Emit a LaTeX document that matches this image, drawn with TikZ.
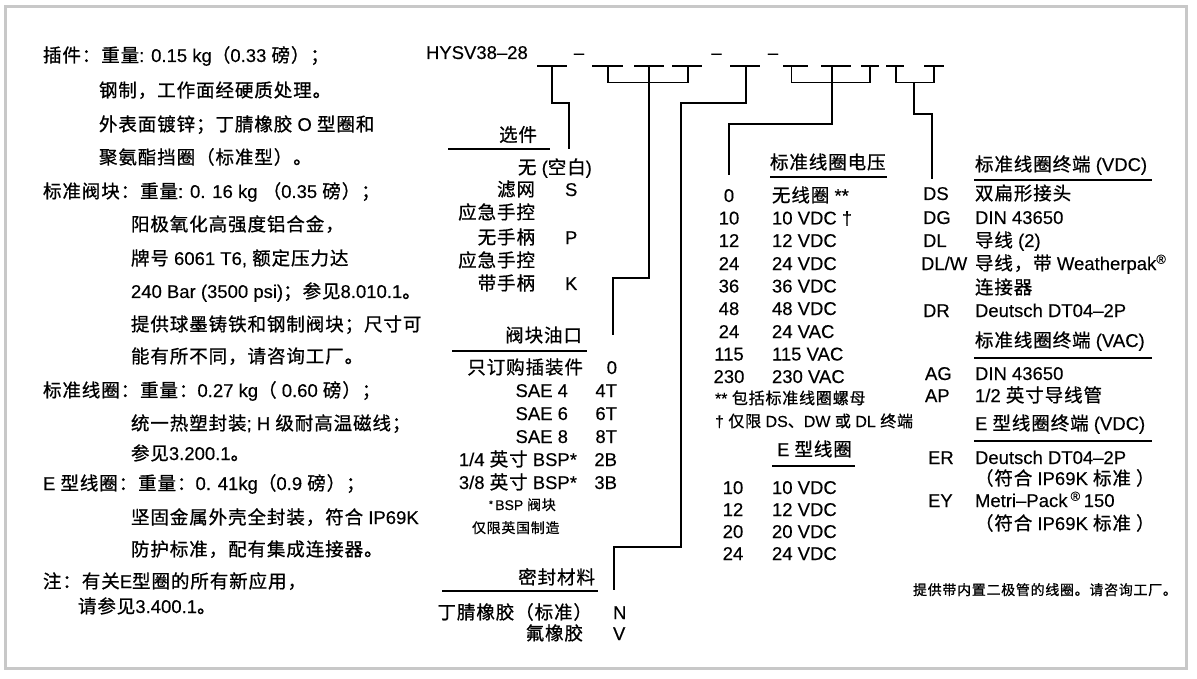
\documentclass[tikz,border=0pt]{standalone}
\usepackage{fontspec}
\setmainfont[FakeBold=0.3]{Liberation Sans}
\newfontfamily\latf[FakeBold=0.3]{Liberation Sans}
\newfontfamily\cjkf[LetterSpace=5,FakeBold=0.8]{Noto Sans CJK SC}
\XeTeXinterchartokenstate=1
\newXeTeXintercharclass\cjkcls
\newcount\mycnt
\mycnt="0021
\loop\XeTeXcharclass\mycnt=0 \ifnum\mycnt<"2FFF \advance\mycnt 1 \repeat
\mycnt="3000
\loop\XeTeXcharclass\mycnt=\cjkcls \ifnum\mycnt<"303F \advance\mycnt 1 \repeat
\mycnt="4E00
\loop\XeTeXcharclass\mycnt=\cjkcls \ifnum\mycnt<"9FFF \advance\mycnt 1 \repeat
\mycnt="FF00
\loop\XeTeXcharclass\mycnt=\cjkcls \ifnum\mycnt<"FFEF \advance\mycnt 1 \repeat
\XeTeXinterchartoks 0 \cjkcls = {\cjkf}
\XeTeXinterchartoks 4095 \cjkcls = {\cjkf}
\XeTeXinterchartoks \cjkcls 0 = {\latf}
\XeTeXinterchartoks \cjkcls 4095 = {\latf}
\definecolor{framegray}{RGB}{200,200,200}
\tikzset{
  txt/.style={inner sep=0pt, outer sep=0pt, font=\fontsize{18.5}{22}\selectfont},
  sm/.style={inner sep=0pt, outer sep=0pt, font=\fontsize{16}{19}\selectfont},
  xs/.style={inner sep=0pt, outer sep=0pt, font=\fontsize{14}{17}\selectfont},
  conn/.style={line width=1.3pt, draw=black},
  rule/.style={line width=1.3pt, draw=black},
  frame/.style={line width=3pt, draw=framegray}
}
\begin{document}
\begin{tikzpicture}[x=1pt,y=-1pt]
\useasboundingbox (0,0) rectangle (1197,679);
\fill[white] (0,0) rectangle (1197,679);
\draw[frame] (5.5,7) rectangle (1186,668);

% ---------- left column ----------
\begin{scope}[every node/.style={txt, anchor=base west}]
\node (l1) at (43,62) {插件：重量: 0.15 kg（0.33 磅）；};
\node (l2) at (99,97) {钢制，工作面经硬质处理。};
\node (l3) at (99,131) {外表面镀锌；丁腈橡胶 O 型圈和};
\node (l4) at (99,164) {聚氨酯挡圈（标准型）。};
\node (l5) at (43,198) {标准阀块：重量: 0. 16 kg （0.35 磅）；};
\node (l6) at (131,231) {阳极氧化高强度铝合金，};
\node (l7) at (131,265) {牌号 6061 T6, 额定压力达};
\node (l8) at (131,298) {240 Bar (3500 psi)；参见8.010.1。};
\node (l9) at (131,331) {提供球墨铸铁和钢制阀块；尺寸可};
\node (l10) at (131,363) {能有所不同，请咨询工厂。};
\node (l11) at (43,397) {标准线圈：重量：0.27 kg（ 0.60 磅）；};
\node (l12) at (131,430) {统一热塑封装; H 级耐高温磁线；};
\node (l13) at (131,460) {参见3.200.1。};
\node (l14) at (43,490) {E 型线圈：重量：0. 41kg（0.9 磅）；};
\node (l15) at (131,524) {坚固金属外壳全封装，符合 IP69K};
\node (l16) at (131,556) {防护标准，配有集成连接器。};
\node (l17) at (43,588) {注：有关E型圈的所有新应用，};
\node (l18) at (78,613) {请参见3.400.1。};
\end{scope}

% ---------- model code ----------
\node[txt, anchor=base west] (code) at (426,59) {HYSV38–28};
\node[txt, anchor=base] (d1) at (579,59) {–};
\node[txt, anchor=base] (d2) at (716.5,59) {–};
\node[txt, anchor=base] (d3) at (773,59) {–};

\coordinate (b1l) at (537,66);  \coordinate (b1r) at (567,66);  \coordinate (t1) at (552,66);
\coordinate (b2l) at (592,66);  \coordinate (b2r) at (623,66);  \coordinate (t2) at (608,66);
\coordinate (b3l) at (634,66);  \coordinate (b3r) at (664,66);  \coordinate (t3) at (649,66);
\coordinate (b4l) at (672,66);  \coordinate (b4r) at (702,66);  \coordinate (t4) at (688,66);
\coordinate (b5l) at (730,66);  \coordinate (b5r) at (760,66);  \coordinate (t5) at (746,66);
\coordinate (b6l) at (783,66);  \coordinate (b6r) at (808,66);  \coordinate (t6) at (791.5,66);
\coordinate (b7l) at (821,66);  \coordinate (b7r) at (851,66);  \coordinate (t7) at (832,66);
\coordinate (b8l) at (861,66);  \coordinate (b8r) at (879,66);  \coordinate (t8) at (870,66);
\coordinate (b9l) at (886,66);  \coordinate (b9r) at (904,66);  \coordinate (t9) at (896,66);
\coordinate (b10l) at (924,66); \coordinate (b10r) at (944,66); \coordinate (t10) at (934,66);
\foreach \i in {1,...,10} {\draw[rule] (b\i l) -- (b\i r);}

% ---------- section: options ----------
\node[txt, anchor=base east] (hopt) at (537,141.5) {选件};
\coordinate (r1a) at (448,149); \coordinate (r1b) at (550,149);
\draw[rule] (r1a) -- (r1b);
\node[txt, anchor=base west] (o0) at (518,174) {无 (空白)};
\node[txt, anchor=base east] (o1) at (535,196) {滤网};
\node[txt, anchor=base west] (o1c) at (565,196) {S};
\node[txt, anchor=base east] (o2) at (535,219) {应急手控};
\node[txt, anchor=base east] (o3) at (535,244) {无手柄};
\node[txt, anchor=base west] (o3c) at (565,244) {P};
\node[txt, anchor=base east] (o4) at (535,267) {应急手控};
\node[txt, anchor=base east] (o5) at (535,290) {带手柄};
\node[txt, anchor=base west] (o5c) at (565,290) {K};

% ---------- section: ports ----------
\node[txt, anchor=base east] (hport) at (582,342) {阀块油口};
\coordinate (r2a) at (452,351); \coordinate (r2b) at (587,351);
\draw[rule] (r2a) -- (r2b);
\node[txt, anchor=base east] (p0) at (583,374) {只订购插装件};
\node[txt, anchor=base east] (p0c) at (617,374) {0};
\node[txt, anchor=base east] (p1) at (568,397) {SAE 4};
\node[txt, anchor=base east] (p1c) at (617,397) {4T};
\node[txt, anchor=base east] (p2) at (568,420) {SAE 6};
\node[txt, anchor=base east] (p2c) at (617,420) {6T};
\node[txt, anchor=base east] (p3) at (568,443) {SAE 8};
\node[txt, anchor=base east] (p3c) at (617,443) {8T};
\node[txt, anchor=base east] (p4) at (577,466) {1/4 英寸 BSP*};
\node[txt, anchor=base east] (p4c) at (617,466) {2B};
\node[txt, anchor=base east] (p5) at (577,489) {3/8 英寸 BSP*};
\node[txt, anchor=base east] (p5c) at (617,489) {3B};
\node[xs, anchor=base west] (pn1) at (489,510) {\raisebox{0.35ex}{\fontsize{10}{12}\selectfont *}\,BSP 阀块};
\node[xs, anchor=base west] (pn2) at (472,533) {仅限英国制造};

% ---------- section: seals ----------
\node[txt, anchor=base east] (hseal) at (595,584) {密封材料};
\coordinate (r3a) at (442,591); \coordinate (r3b) at (598,591);
\draw[rule] (r3a) -- (r3b);
\node[txt, anchor=base east] (s1) at (592,619) {丁腈橡胶（标准）};
\node[txt, anchor=base west] (s1c) at (613,619) {N};
\node[txt, anchor=base east] (s2) at (583,640) {氟橡胶};
\node[txt, anchor=base west] (s2c) at (613,640) {V};

% ---------- section: coil voltage ----------
\node[txt, anchor=base west] (hvolt) at (770,169) {标准线圈电压};
\coordinate (r4a) at (770,177); \coordinate (r4b) at (887,177);
\draw[rule] (r4a) -- (r4b);
\foreach \c/\d/\y [count=\k] in {0/无线圈 **/202, 10/10 VDC †/224.5, 12/12 VDC/247, 24/24 VDC/270, 36/36 VDC/292.5, 48/48 VDC/315, 24/24 VAC/338, 115/115 VAC/360.5, 230/230 VAC/383} {
  \node[txt, anchor=base] (vc\k) at (729,\y) {\c};
  \node[txt, anchor=base west] (vd\k) at (772,\y) {\d};
}
\node[sm, anchor=base west] (vn1) at (715,404) {** 包括标准线圈螺母};
\node[sm, anchor=base west] (vn2) at (715,427) {† 仅限 DS、DW 或 DL 终端};

\node[txt, anchor=base west] (hevolt) at (777,456) {E 型线圈};
\coordinate (r5a) at (772,466); \coordinate (r5b) at (855,466);
\draw[rule] (r5a) -- (r5b);
\foreach \c/\y [count=\k] in {10/494, 12/516, 20/538, 24/560} {
  \node[txt, anchor=base] (ec\k) at (733,\y) {\c};
  \node[txt, anchor=base west] (ed\k) at (772,\y) {\c\ VDC};
}

% ---------- section: terminations ----------
\node[txt, anchor=base west] (hterm) at (975,171) {标准线圈终端 (VDC)};
\coordinate (r6a) at (974,180); \coordinate (r6b) at (1152,180);
\draw[rule] (r6a) -- (r6b);
\node[txt, anchor=base west] (tc1) at (923,200) {DS};
\node[txt, anchor=base west] (td1) at (975,200) {双扁形接头};
\node[txt, anchor=base west] (tc2) at (923,224) {DG};
\node[txt, anchor=base west] (td2) at (975,224) {DIN 43650};
\node[txt, anchor=base west] (tc3) at (923,247) {DL};
\node[txt, anchor=base west] (td3) at (975,247) {导线 (2)};
\node[txt, anchor=base west] (tc4) at (921,270) {DL/W};
\node[txt, anchor=base west] (td4) at (975,270) {导线，带 Weatherpak\textsuperscript{®}};
\node[txt, anchor=base west] (td4b) at (975,294) {连接器};
\node[txt, anchor=base west] (tc5) at (923,317) {DR};
\node[txt, anchor=base west] (td5) at (975,317) {Deutsch DT04–2P};

\node[txt, anchor=base west] (hterma) at (975,347) {标准线圈终端 (VAC)};
\coordinate (r7a) at (974,358); \coordinate (r7b) at (1152,358);
\draw[rule] (r7a) -- (r7b);
\node[txt, anchor=base west] (ac1) at (925,380) {AG};
\node[txt, anchor=base west] (ad1) at (975,380) {DIN 43650};
\node[txt, anchor=base west] (ac2) at (925,402) {AP};
\node[txt, anchor=base west] (ad2) at (975,402) {1/2 英寸导线管};

\node[txt, anchor=base west] (htermE) at (975,430) {E 型线圈终端 (VDC)};
\coordinate (r8a) at (974,441); \coordinate (r8b) at (1152,441);
\draw[rule] (r8a) -- (r8b);
\node[txt, anchor=base west] (ec1x) at (928,464) {ER};
\node[txt, anchor=base west] (ed1x) at (975,464) {Deutsch DT04–2P};
\node[txt, anchor=base west] (ed1y) at (975,485) {（符合 IP69K 标准 ）};
\node[txt, anchor=base west] (ec2x) at (928,507) {EY};
\node[txt, anchor=base west] (ed2x) at (975,507) {Metri–Pack\,\textsuperscript{®}\,150};
\node[txt, anchor=base west] (ed2y) at (975,530) {（符合 IP69K 标准 ）};

\node[xs, anchor=base west] (note) at (913,595) {提供带内置二极管的线圈。请咨询工厂。};

% ---------- connectors ----------
\coordinate (j1) at (569,103); \coordinate (e1) at (569,149);
\draw[conn] (t1) |- (j1) -- (e1);

\coordinate (ba) at (688,82.5);
\draw[conn] (t2) |- (ba) -- (t4);
\coordinate (j3) at (613,278); \coordinate (e3) at (613,335);
\draw[conn] (t3) |- (j3) -- (e3);

\coordinate (j5a) at (681,103); \coordinate (j5b) at (614,547); \coordinate (e5) at (614,590);
\draw[conn] (t5) |- (j5a) |- (j5b) -- (e5);

\coordinate (bb) at (870,82.5);
\draw[conn] (t6) |- (bb) -- (t8);
\coordinate (j7) at (729,124); \coordinate (e7) at (729,175);
\draw[conn] (t7) |- (j7) -- (e7);

\coordinate (bc) at (934,82.5); \coordinate (bcm) at (914,82.5);
\draw[conn] (t9) |- (bc) -- (t10);
\coordinate (j9) at (932,114); \coordinate (e9) at (932,179);
\draw[conn] (bcm) |- (j9) -- (e9);
\end{tikzpicture}
\end{document}
